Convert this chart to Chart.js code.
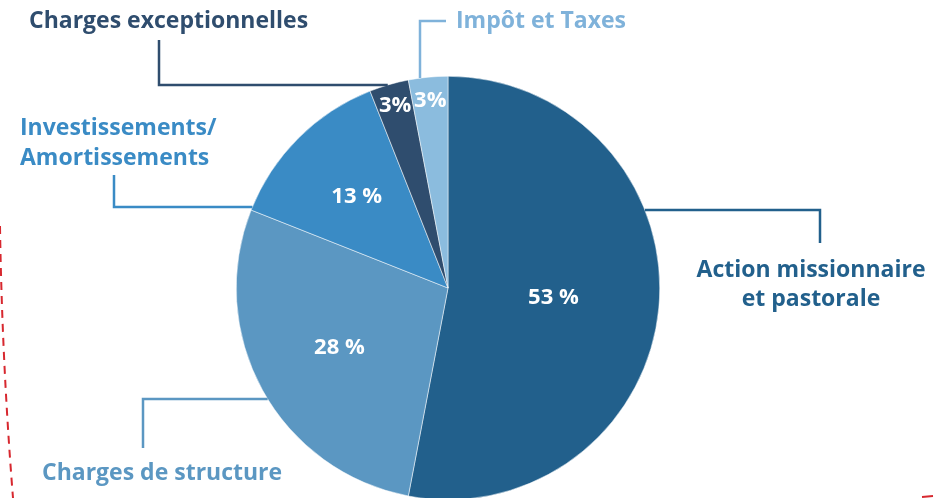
<!DOCTYPE html>
<html lang="fr">
<head>
    <meta charset="UTF-8">
    <title>Répartition des charges</title>
    <script src="https://cdn.jsdelivr.net/npm/chart.js"></script>
    <style>
        html, body { margin: 0; padding: 0; background: #fff; overflow: hidden; }
        #wrap { position: relative; width: 935px; height: 500px; }
    </style>
</head>
<body>
    <div id="wrap"><canvas id="myChart"></canvas></div>
    <script>
        // Data
        const categories = ['Action missionnaire et pastorale', 'Charges de structure', 'Investissements/Amortissements', 'Charges exceptionnelles', 'Impôt et Taxes'];
        const shares = [53, 28, 13, 3, 3];
        const shareLabels = ['53 %', '28 %', '13 %', '3%', '3%'];

        const sliceColors = ['#22608c', '#5b97c2', '#3a8bc5', '#2f4d6e', '#8bbcde'];
        const textColors = ['#22608c', '#5b97c2', '#3a8bc5', '#2f4d6e', '#7fb2da'];
        // how far out (fraction of radius) each percentage sits
        const labelRadius = [0.50, 0.585, 0.61, 0.895, 0.89];

        const FONT = '"Open Sans", Lato, sans-serif';

        const ctx = document.getElementById('myChart').getContext('2d');

        const calloutPlugin = {
            id: 'callouts',
            afterDraw(chart) {
                const c = chart.ctx;
                const arcs = chart.getDatasetMeta(0).data;
                const p0 = arcs[0].getProps(['x', 'y', 'outerRadius'], true);
                const cx = p0.x, cy = p0.y, r = p0.outerRadius;
                const edgeX = (y, side) => cx + side * Math.sqrt(r * r - (y - cy) * (y - cy));
                const edgeY = (x) => cy - Math.sqrt(r * r - (x - cx) * (x - cx));

                // percentages inside slices
                c.save();
                c.fillStyle = '#fff';
                c.textAlign = 'center';
                c.textBaseline = 'middle';
                c.font = 'bold 22px ' + FONT;
                arcs.forEach((arc, i) => {
                    const p = arc.getProps(['x', 'y', 'startAngle', 'endAngle', 'outerRadius'], true);
                    const mid = (p.startAngle + p.endAngle) / 2;
                    const rr = p.outerRadius * labelRadius[i];
                    c.fillText(shareLabels[i], p.x + Math.cos(mid) * rr, p.y + Math.sin(mid) * rr);
                });
                c.restore();

                // leader lines + outside labels
                const callouts = [
                    { i: 0, path: [[edgeX(210, 1), 210], [820, 210], [820, 243]],
                      lines: ['Action missionnaire', 'et pastorale'], x: 811, y: [270, 299], align: 'center' },
                    { i: 1, path: [[edgeX(399, -1), 399], [143, 399], [143, 448]],
                      lines: ['Charges de structure'], x: 42, y: [473], align: 'left' },
                    { i: 2, path: [[edgeX(207, -1), 207], [114, 207], [114, 175]],
                      lines: ['Investissements/', 'Amortissements'], x: 20, y: [128, 158], align: 'left' },
                    { i: 3, path: [[edgeX(85, -1), 85], [159, 85], [159, 40]],
                      lines: ['Charges exceptionnelles'], x: 29, y: [21], align: 'left' },
                    { i: 4, path: [[420, edgeY(420)], [420, 21], [446, 21]],
                      lines: ['Impôt et Taxes'], x: 456, y: [21], align: 'left' }
                ];

                callouts.forEach(co => {
                    c.save();
                    c.strokeStyle = textColors[co.i];
                    c.lineWidth = 2.5;
                    c.beginPath();
                    co.path.forEach((pt, k) => k ? c.lineTo(pt[0], pt[1]) : c.moveTo(pt[0], pt[1]));
                    c.stroke();
                    c.fillStyle = textColors[co.i];
                    c.font = 'bold 23px ' + FONT;
                    c.textAlign = co.align;
                    c.textBaseline = 'middle';
                    co.lines.forEach((t, k) => c.fillText(t, co.x, co.y[k]));
                    c.restore();
                });

                // red dashed decoration on the left edge
                c.save();
                c.strokeStyle = '#d7282f';
                c.lineWidth = 2;
                c.setLineDash([8, 6]);
                c.beginPath();
                c.moveTo(0, 226);
                c.quadraticCurveTo(2, 360, 13, 498);
                c.stroke();
                c.setLineDash([]);
                c.beginPath();
                c.moveTo(922, 497);
                c.lineTo(933, 496);
                c.stroke();
                c.restore();
            }
        };

        new Chart(ctx, {
            type: 'pie',
            data: {
                labels: categories,
                datasets: [{
                    data: shares,
                    backgroundColor: sliceColors,
                    borderColor: '#ffffff',
                    borderWidth: 0.5
                }]
            },
            options: {
                responsive: true,
                maintainAspectRatio: false,
                animation: false,
                layout: { padding: { top: 76, left: 0, right: 39, bottom: 0 } },
                plugins: {
                    legend: { display: false },
                    tooltip: { enabled: false }
                }
            },
            plugins: [calloutPlugin]
        });
    </script>
</body>
</html>
